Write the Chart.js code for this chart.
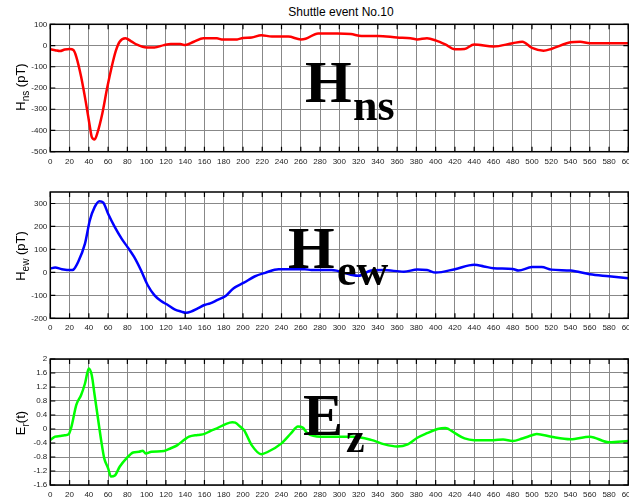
<!DOCTYPE html>
<html>
<head>
<meta charset="utf-8">
<script src="https://cdn.jsdelivr.net/npm/chart.js"></script>
<style>
  body { margin: 0; background: #fff; overflow: hidden; }
  #wrap { position: relative; width: 640px; height: 502px; font-family: "Liberation Sans", Arial, sans-serif; color: #000; }
  canvas { position: absolute; left: 0; }
  .ylab { position: absolute; font-size: 13px; white-space: nowrap; transform: translate(-50%, -50%) rotate(-90deg); }
  .ylab sub { font-size: 10px; }
  #title { position: absolute; left: 341px; top: 12px; transform: translate(-50%, -50%); font-size: 12px; white-space: nowrap; }
</style>
</head>
<body>
<div id="wrap">
  <div id="title">Shuttle event No.10</div>
  <canvas id="hnsChart" width="640" height="170" style="top:0px"></canvas>
  <canvas id="hewChart" width="640" height="170" style="top:170px"></canvas>
  <canvas id="ezChart" width="640" height="162" style="top:340px"></canvas>
  <div class="ylab" style="left:22px;top:87px">H<sub>ns</sub> (pT)</div>
  <div class="ylab" style="left:22px;top:256px">H<sub>ew</sub> (pT)</div>
  <div class="ylab" style="left:22px;top:423px">E<sub>r</sub>(t)</div>
</div>
<script>
// shared x axis ticks
const xTicks = [0, 20, 40, 60, 80, 100, 120, 140, 160, 180, 200, 220, 240, 260, 280, 300,
  320, 340, 360, 380, 400, 420, 440, 460, 480, 500, 520, 540, 560, 580, 600];

// H_ns (pT)
const hnsX = [0, 5, 10, 15, 20, 24, 27, 32, 37, 41, 43, 46, 49, 54, 59, 64, 68, 72, 78, 84, 90,
  100, 108, 118, 125, 135, 140, 149, 159, 173, 178, 194, 200, 209, 219, 230, 247, 260, 265, 278,
  298, 312, 323, 340, 360, 374, 381, 391, 400, 410, 420, 430, 440, 460, 480, 490, 500, 512, 520,
  540, 550, 560, 580, 600];
const hnsY = [-18, -22, -26, -19, -16, -21, -53, -147, -270, -380, -430, -442, -410, -320, -200, -95, -25, 18, 34, 20, 4,
  -9, -9, 2, 7, 7, 2, 18, 34, 34, 29, 29, 36, 38, 49, 42, 42, 29, 32, 57,
  57, 54, 45, 45, 38, 34, 29, 34, 24, 5, -18, -16, 5, -5, 11, 18, -11, -24, -16,
  15, 18, 11, 11, 11];
const hnsTicks = [100, 0, -100, -200, -300, -400, -500];

// H_ew (pT)
const hewX = [0, 5, 12, 22, 24, 29, 36, 41, 46, 51, 55, 60, 67, 74, 80, 87, 94, 101, 108, 115,
  122, 129, 136, 141, 146, 153, 160, 166, 173, 182, 190, 201, 212, 223, 237, 250, 264, 271, 292,
  312, 320, 333, 346, 367, 381, 391, 400, 420, 440, 450, 460, 480, 486, 500, 510, 520, 540, 560,
  580, 600];
const hewY = [17, 21, 14, 10, 12, 46, 125, 226, 284, 310, 304, 255, 197, 147, 111, 67, 10, -55, -99, -125,
  -142, -161, -171, -176, -171, -157, -142, -135, -121, -103, -70, -45, -18, -2, 14, 14, 14, 10, 10,
  -10, -15, 8, 10, 3, 12, 10, -1, 14, 33, 26, 18, 15, 8, 23, 23, 12, 8, -8,
  -17, -26];
const hewTicks = [300, 200, 100, 0, -100, -200];

// E_r(t)
const ezX = [0, 5, 10, 15, 19, 22, 27, 32, 36, 40, 43, 46, 49.5, 53, 56, 60, 63, 67, 72, 79, 86,
  92, 96, 99, 105, 118, 125, 132, 139, 144, 153, 160, 166, 173, 182, 189, 192, 197, 201, 209, 219,
  226, 240, 250, 257, 262, 267, 281, 300, 315, 333, 347, 360, 371, 381, 391, 402, 410, 420, 430,
  440, 460, 470, 480, 490, 500, 505, 520, 540, 560, 580, 600];
const ezY = [-0.31, -0.22, -0.2, -0.18, -0.15, 0.07, 0.69, 0.97, 1.3, 1.73, 1.54, 0.97, 0.3, -0.36, -0.84, -1.12, -1.36, -1.33, -1.08, -0.84, -0.67,
  -0.65, -0.62, -0.7, -0.65, -0.63, -0.55, -0.46, -0.31, -0.22, -0.17, -0.14, -0.06, 0.02, 0.14, 0.19, 0.18, 0.07, -0.03, -0.46, -0.72,
  -0.65, -0.41, -0.12, 0.07, 0.04, -0.12, -0.22, -0.22, -0.22, -0.31, -0.44, -0.5, -0.44, -0.25, -0.12, 0, 0.03, -0.12, -0.27,
  -0.32, -0.32, -0.3, -0.34, -0.27, -0.18, -0.14, -0.22, -0.29, -0.22, -0.38, -0.34];
const ezTicks = [2, 1.6, 1.2, 0.8, 0.4, 0, -0.4, -0.8, -1.2, -1.6];

Chart.defaults.font.family = '"Liberation Sans", Arial, sans-serif';
Chart.defaults.font.size = 8;
Chart.defaults.color = '#222';

// matlab style box, inward ticks and the big overlay label
const framePlugin = {
  id: 'frame',
  afterDraw(chart, args, opts) {
    const ctx = chart.ctx;
    const a = chart.chartArea;
    const x = chart.scales.x;
    const y = chart.scales.y;
    ctx.save();
    ctx.strokeStyle = '#000';
    ctx.lineWidth = 1.5;
    ctx.strokeRect(a.left, a.top, a.right - a.left, a.bottom - a.top);
    ctx.lineWidth = 1.2;
    ctx.beginPath();
    x.ticks.forEach(t => {
      const px = x.getPixelForValue(t.value);
      ctx.moveTo(px, a.top); ctx.lineTo(px, a.top + 5);
      ctx.moveTo(px, a.bottom); ctx.lineTo(px, a.bottom - 5);
    });
    y.ticks.forEach(t => {
      const py = y.getPixelForValue(t.value);
      ctx.moveTo(a.left, py); ctx.lineTo(a.left + 5, py);
      ctx.moveTo(a.right, py); ctx.lineTo(a.right - 5, py);
    });
    ctx.stroke();

    const L = opts.label;
    ctx.fillStyle = '#000';
    ctx.textAlign = 'left';
    ctx.textBaseline = 'alphabetic';
    ctx.font = 'bold ' + L.size + 'px "Liberation Serif", "Times New Roman", serif';
    ctx.fillText(L.main, L.x, L.y);
    ctx.font = 'bold ' + L.subSize + 'px "Liberation Serif", "Times New Roman", serif';
    ctx.fillText(L.sub, L.sx, L.sy);
    ctx.restore();
  }
};

function makePanel(id, xs, ys, color, yTicks, yMin, yMax, pad, label) {
  return new Chart(document.getElementById(id), {
    type: 'line',
    data: {
      datasets: [{
        data: xs.map((x, i) => ({ x: x, y: ys[i] })),
        borderColor: color,
        borderWidth: 2.5,
        pointRadius: 0,
        cubicInterpolationMode: 'monotone',
        fill: false
      }]
    },
    options: {
      responsive: false,
      animation: false,
      events: [],
      layout: { padding: pad },
      plugins: {
        legend: { display: false },
        tooltip: { enabled: false },
        frame: { label: label }
      },
      scales: {
        x: {
          type: 'linear',
          min: 0,
          max: 600,
          afterBuildTicks: s => { s.ticks = xTicks.map(v => ({ value: v })); },
          afterFit: s => { s.height = 16; },
          grid: { color: '#888', lineWidth: 1, drawTicks: false },
          border: { display: false },
          ticks: { padding: 5, maxRotation: 0, autoSkip: false, callback: v => String(v) }
        },
        y: {
          type: 'linear',
          min: yMin,
          max: yMax,
          afterBuildTicks: s => { s.ticks = yTicks.map(v => ({ value: v })); },
          afterFit: s => { s.width = 30; },
          grid: { color: '#888', lineWidth: 1, drawTicks: false },
          border: { display: false },
          ticks: { padding: 3, autoSkip: false, callback: v => String(v) }
        }
      }
    },
    plugins: [framePlugin]
  });
}

makePanel('hnsChart', hnsX, hnsY, '#ff0000', hnsTicks, -500, 100,
  { left: 20.3, right: 7.4, top: 24.3, bottom: 2.3 },
  { main: 'H', sub: 'ns', x: 305, y: 102, size: 60, sx: 353, sy: 120, subSize: 44 });

makePanel('hewChart', hewX, hewY, '#0000ff', hewTicks, -200, 350,
  { left: 20.3, right: 7.4, top: 22, bottom: 5.7 },
  { main: 'H', sub: 'ew', x: 288, y: 98, size: 60, sx: 337, sy: 115, subSize: 44 });

makePanel('ezChart', ezX, ezY, '#00ff00', ezTicks, -1.6, 2,
  { left: 20.3, right: 7.4, top: 19, bottom: 1 },
  { main: 'E', sub: 'z', x: 303, y: 95, size: 60, sx: 346, sy: 112, subSize: 42 });
</script>
</body>
</html>
